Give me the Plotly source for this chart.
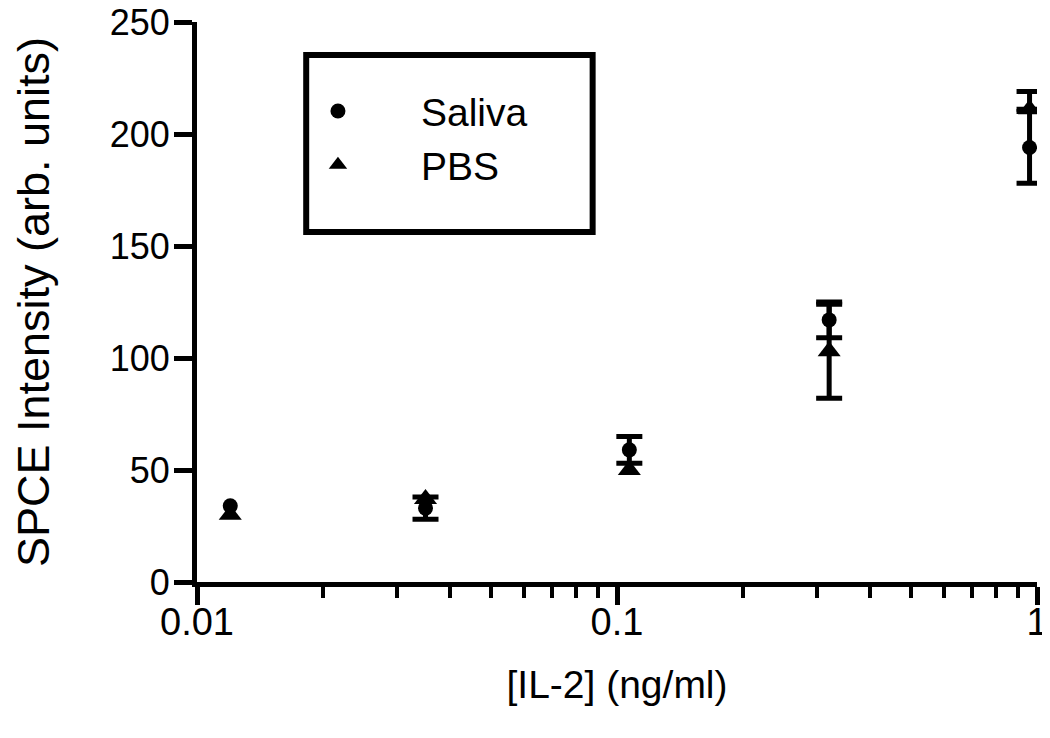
import plotly.graph_objects as go

# IL-2 concentration (ng/ml)
conc = [0.012, 0.035, 0.107, 0.32, 0.96]

# SPCE intensity, mean and error (None = bar hidden behind the marker)
saliva = [34, 33, 59, 117, 194]
saliva_err = [None, 5, 6, 8, 16]
pbs = [30, 37, 50, 103, 211]
pbs_err_up = [None, None, None, 21, 8]
pbs_err_down = [None, None, None, 21, 0]

x_ticks = [0.01, 0.1, 1]
x_ticktext = ["0.01", "0.1", "1"]
y_ticks = [0, 50, 100, 150, 200, 250]

FONT = "Liberation Sans, Arial, sans-serif"


def with_err(xs, ys, up, down):
    idx = [i for i, e in enumerate(up) if e is not None]
    return ([xs[i] for i in idx], [ys[i] for i in idx],
            [up[i] for i in idx], [down[i] for i in idx])


fig = go.Figure()

# error bars first, markers drawn on top
for ys, up, down in [(saliva, saliva_err, saliva_err), (pbs, pbs_err_up, pbs_err_down)]:
    ex, ey, eu, ed = with_err(conc, ys, up, down)
    fig.add_trace(go.Scatter(
        x=ex, y=ey, mode="markers", showlegend=False, hoverinfo="skip",
        marker=dict(size=1, color="rgba(0,0,0,0)"),
        error_y=dict(type="data", symmetric=False, array=eu, arrayminus=ed,
                     color="black", thickness=5, width=13),
    ))

fig.add_trace(go.Scatter(
    x=conc, y=saliva, name="Saliva", mode="markers",
    marker=dict(symbol="circle", size=15, color="black"),
))

fig.add_trace(go.Scatter(
    x=conc, y=pbs, name="PBS", mode="markers",
    marker=dict(symbol="triangle-up", size=20, color="black"),
))

# legend frame
fig.add_shape(type="rect", xref="paper", yref="paper",
              x0=0.130, x1=0.471, y0=0.625, y1=0.941,
              line=dict(color="black", width=6))

fig.update_layout(
    width=1042, height=730,
    margin=dict(l=189, r=13, t=14, b=156),
    plot_bgcolor="white", paper_bgcolor="white",
    font=dict(family=FONT, color="black", size=36),
    showlegend=True,
    legend=dict(x=0.069, y=0.898, xanchor="left", yanchor="top",
                bgcolor="rgba(0,0,0,0)", borderwidth=0,
                font=dict(size=39), itemwidth=156),
    xaxis=dict(
        type="log", range=[-2, 0], automargin=False,
        tickvals=x_ticks, ticktext=x_ticktext,
        ticks="outside", ticklen=18, tickwidth=5, tickcolor="black",
        ticklabelstandoff=-16, ticklabeloverflow="allow",
        showline=True, linewidth=5, linecolor="black",
        showgrid=False, zeroline=False,
        tickfont=dict(size=38),
        minor=dict(ticks="outside", ticklen=11, tickwidth=4, tickcolor="black",
                   dtick="D1", showgrid=False),
        title=dict(text="[IL-2] (ng/ml)", font=dict(size=39), standoff=31),
    ),
    yaxis=dict(
        range=[0, 250], tickvals=y_ticks, automargin=False,
        ticks="outside", ticklen=18, tickwidth=5, tickcolor="black",
        ticklabelstandoff=-3, ticklabeloverflow="allow",
        showline=True, linewidth=5, linecolor="black",
        showgrid=False, zeroline=False,
        tickfont=dict(size=36),
        title=dict(text="SPCE Intensity (arb. units)", font=dict(size=45), standoff=86),
    ),
)

fig.write_html("out.html")
